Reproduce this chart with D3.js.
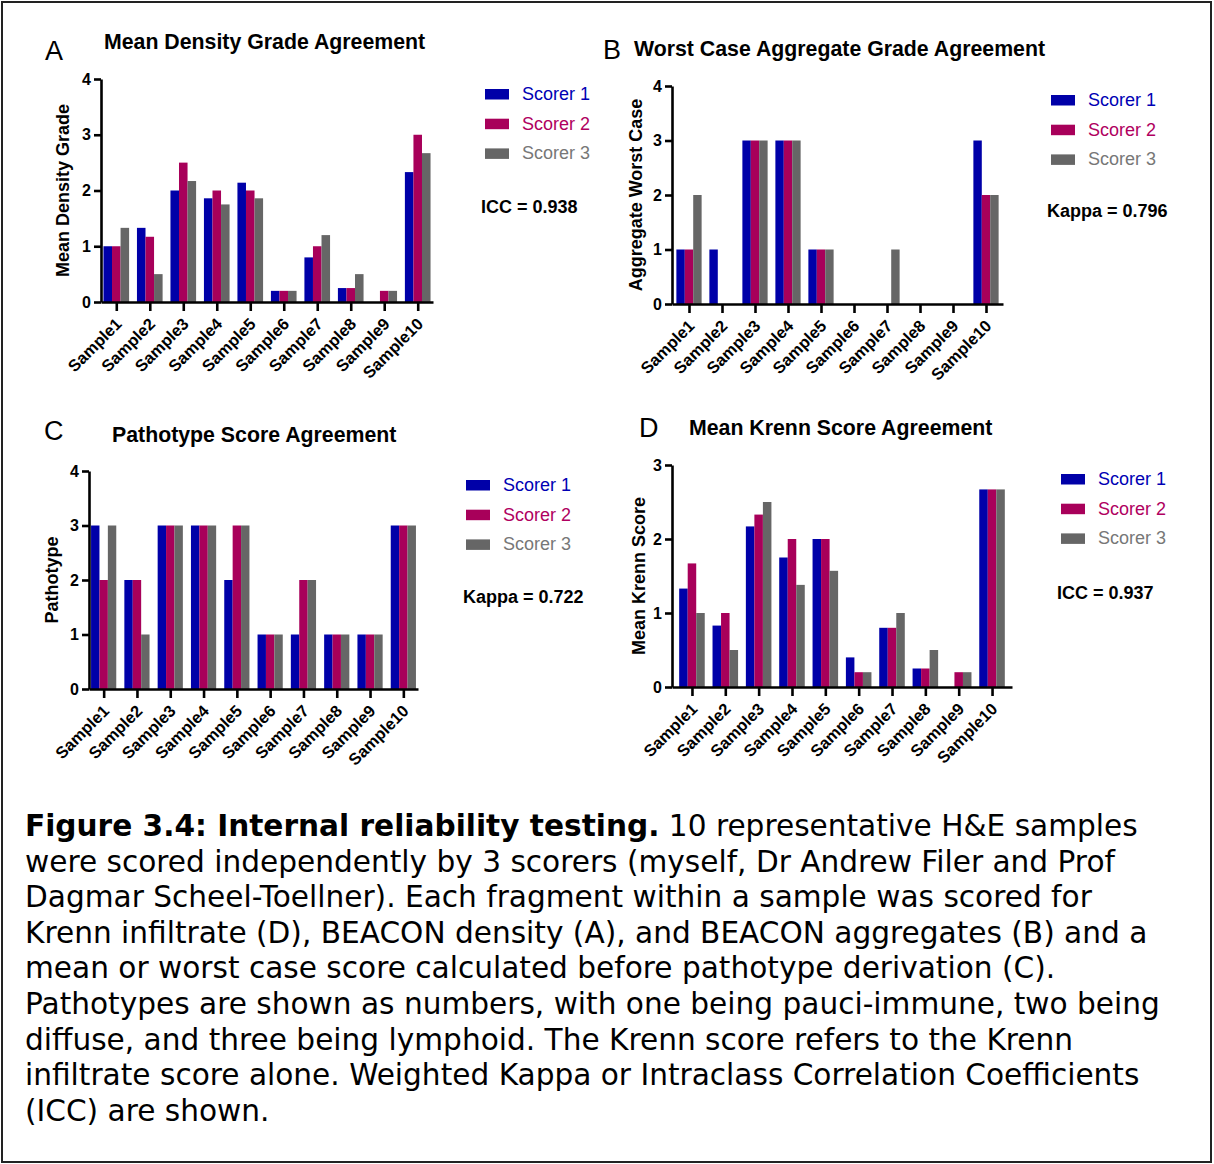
<!DOCTYPE html>
<html>
<head>
<meta charset="utf-8">
<script src="https://cdn.jsdelivr.net/npm/d3@7"></script>
<style>
  body { margin: 0; background: #fff; }
  svg { display: block; }
</style>
</head>
<body>
<svg id="fig" width="1214" height="1164"></svg>
<script>
// ---- data ----
const samples = ["Sample1", "Sample2", "Sample3", "Sample4", "Sample5",
                 "Sample6", "Sample7", "Sample8", "Sample9", "Sample10"];
const scorers = ["Scorer 1", "Scorer 2", "Scorer 3"];

// A: mean density grade, one row per scorer
const densityGrade = [
  [1.00, 1.33, 2.00, 1.86, 2.14, 0.20, 0.80, 0.25, 0.00, 2.33],
  [1.00, 1.17, 2.50, 2.00, 2.00, 0.20, 1.00, 0.25, 0.20, 3.00],
  [1.33, 0.50, 2.17, 1.75, 1.86, 0.20, 1.20, 0.50, 0.20, 2.67]
];
// B: worst case aggregate grade
const aggregateWorst = [
  [1, 1, 3, 3, 1, 0, 0, 0, 0, 3],
  [1, 0, 3, 3, 1, 0, 0, 0, 0, 2],
  [2, 0, 3, 3, 1, 0, 1, 0, 0, 2]
];
// C: pathotype
const pathotype = [
  [3, 2, 3, 3, 2, 1, 1, 1, 1, 3],
  [2, 2, 3, 3, 3, 1, 2, 1, 1, 3],
  [3, 1, 3, 3, 3, 1, 2, 1, 1, 3]
];
// D: mean Krenn score
const krennScore = [
  [1.33, 0.83, 2.17, 1.75, 2.00, 0.40, 0.80, 0.25, 0.00, 2.67],
  [1.67, 1.00, 2.33, 2.00, 2.00, 0.20, 0.80, 0.25, 0.20, 2.67],
  [1.00, 0.50, 2.50, 1.38, 1.57, 0.20, 1.00, 0.50, 0.20, 2.67]
];

const ticks4 = [0, 1, 2, 3, 4];
const ticks3 = [0, 1, 2, 3];

const statLabels = ["ICC = 0.938", "Kappa = 0.796", "Kappa = 0.722", "ICC = 0.937"];
const panelLetters = ["A", "B", "C", "D"];
const panelTitles = ["Mean Density Grade Agreement", "Worst Case Aggregate Grade Agreement",
                     "Pathotype Score Agreement", "Mean Krenn Score Agreement"];
const yTitles = ["Mean Density Grade", "Aggregate Worst Case", "Pathotype", "Mean Krenn Score"];

const captionLines = [
  [["b", "Figure 3.4: Internal reliability testing."], ["n", " 10 representative H&E samples"]],
  [["n", "were scored independently by 3 scorers (myself, Dr Andrew Filer and Prof"]],
  [["n", "Dagmar Scheel-Toellner). Each fragment within a sample was scored for"]],
  [["n", "Krenn infiltrate (D), BEACON density (A), and BEACON aggregates (B) and a"]],
  [["n", "mean or worst case score calculated before pathotype derivation (C)."]],
  [["n", "Pathotypes are shown as numbers, with one being pauci-immune, two being"]],
  [["n", "diffuse, and three being lymphoid. The Krenn score refers to the Krenn"]],
  [["n", "infiltrate score alone. Weighted Kappa or Intraclass Correlation Coefficients"]],
  [["n", "(ICC) are shown."]]
];

// ---- styling ----
const barColors = ["#0000a8", "#a8005a", "#666666"];
const legendTextColors = ["#0000b4", "#b00060", "#777777"];
const chartFont = "'Liberation Sans', Arial, Helvetica, sans-serif";
const captionFont = "'DejaVu Sans', Verdana, sans-serif";

// ---- layout of each panel (axis frame, title, legend positions) ----
const panels = [
  { values: densityGrade, ticks: ticks4, x0: 101, x1: 433, xFirst: 116.3, xLast: 418, yTop: 79, yZero: 302,
    letter: [45, 60], title: [104, 49], yTitleX: 68.5, legend: [485, 89], stat: [481, 213] },
  { values: aggregateWorst, ticks: ticks4, x0: 672, x1: 1003, xFirst: 689, xLast: 986, yTop: 86, yZero: 304,
    letter: [603, 59], title: [634, 56], yTitleX: 641.5, legend: [1051, 95], stat: [1047, 217] },
  { values: pathotype, ticks: ticks4, x0: 89, x1: 418, xFirst: 103.5, xLast: 400, yTop: 471, yZero: 689,
    letter: [44, 440], title: [112, 442], yTitleX: 57.5, legend: [466, 480], stat: [463, 603] },
  { values: krennScore, ticks: ticks3, x0: 672, x1: 1012, xFirst: 692, xLast: 992.7, yTop: 465, yZero: 687,
    letter: [639, 437], title: [689, 435], yTitleX: 644.5, legend: [1061, 474], stat: [1057, 599] }
];

const svg = d3.select("#fig");
svg.append("rect").attr("width", 1214).attr("height", 1164).attr("fill", "#fff");
svg.append("rect")
  .attr("x", 2).attr("y", 2).attr("width", 1209).attr("height", 1160)
  .attr("fill", "none").attr("stroke", "#222").attr("stroke-width", 2);

panels.forEach((p, i) => {
  const g = svg.append("g").attr("font-family", chartFont);

  const step = (p.xLast - p.xFirst) / (samples.length - 1);
  const x = d3.scalePoint()
    .domain(samples)
    .range([p.x0, p.x1])
    .padding((p.xFirst - p.x0) / step);
  const barW = step * 0.255;
  const xs = d3.scaleBand().domain(scorers).range([-1.5 * barW, 1.5 * barW]);
  const yMax = p.ticks[p.ticks.length - 1];
  const y = d3.scaleLinear().domain([0, yMax]).range([p.yZero, p.yTop]);

  // bars
  scorers.forEach((s, si) => {
    g.append("g").selectAll("rect")
      .data(p.values[si].map((v, k) => ({ sample: samples[k], v })))
      .join("rect")
      .attr("x", d => x(d.sample) + xs(s))
      .attr("width", xs.bandwidth())
      .attr("y", d => y(d.v))
      .attr("height", d => y(0) - y(d.v))
      .attr("fill", barColors[si]);
  });

  // y axis
  const ya = g.append("g")
    .attr("transform", `translate(${p.x0},0)`)
    .call(d3.axisLeft(y).tickValues(p.ticks).tickFormat(d3.format("d")).tickSize(7).tickSizeOuter(0).tickPadding(3));
  // x axis
  const xa = g.append("g")
    .attr("transform", `translate(0,${p.yZero})`)
    .call(d3.axisBottom(x).tickSize(9).tickSizeOuter(0));

  [ya, xa].forEach(a => {
    a.select(".domain").attr("stroke", "#000").attr("stroke-width", 2.6);
    a.selectAll(".tick line").attr("stroke", "#000").attr("stroke-width", 2.6);
    a.selectAll("text").attr("fill", "#000").attr("font-weight", "bold").attr("font-family", chartFont);
  });
  ya.selectAll("text").attr("font-size", 16);
  xa.selectAll("text")
    .attr("font-size", 16.5)
    .attr("text-anchor", "end")
    .attr("x", 0).attr("y", 0).attr("dy", 0)
    .attr("transform", "translate(6,23) rotate(-45)");

  // y axis title
  g.append("text")
    .attr("transform", `translate(${p.yTitleX},${(p.yTop + p.yZero) / 2}) rotate(-90)`)
    .attr("text-anchor", "middle")
    .attr("font-size", 18).attr("font-weight", "bold")
    .text(yTitles[i]);

  // panel letter and title
  g.append("text").attr("x", p.letter[0]).attr("y", p.letter[1])
    .attr("font-size", 27).text(panelLetters[i]);
  g.append("text").attr("x", p.title[0]).attr("y", p.title[1])
    .attr("font-size", 21.3).attr("font-weight", "bold").text(panelTitles[i]);

  // legend
  const lg = g.append("g").attr("transform", `translate(${p.legend[0]},${p.legend[1]})`);
  scorers.forEach((s, si) => {
    lg.append("rect").attr("x", 0).attr("y", si * 29.7).attr("width", 24).attr("height", 10.5)
      .attr("fill", barColors[si]);
    lg.append("text").attr("x", 37).attr("y", si * 29.7 + 11)
      .attr("font-size", 18).attr("fill", legendTextColors[si]).text(s);
  });

  // agreement statistic
  g.append("text").attr("x", p.stat[0]).attr("y", p.stat[1])
    .attr("font-size", 18).attr("font-weight", "bold").text(statLabels[i]);
});

// ---- caption ----
const cap = svg.append("text")
  .attr("font-family", captionFont).attr("font-size", 29.6).attr("fill", "#000");
captionLines.forEach((line, li) => {
  line.forEach(([w, t], pi) => {
    const ts = cap.append("tspan").attr("font-weight", w === "b" ? "bold" : "normal").text(t);
    if (pi === 0) ts.attr("x", 25).attr("y", 836 + li * 35.6);
  });
});
</script>
</body>
</html>
